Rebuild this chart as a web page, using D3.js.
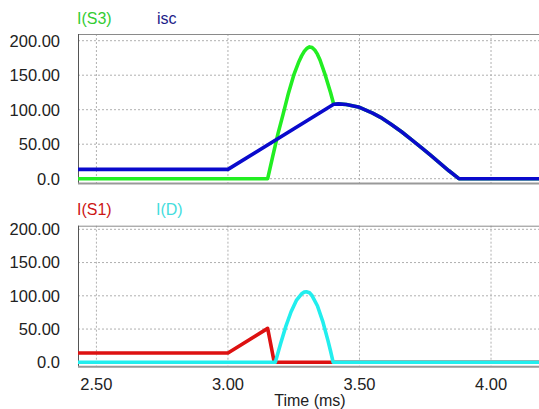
<!DOCTYPE html>
<html>
<head>
<meta charset="utf-8">
<script src="https://cdn.jsdelivr.net/npm/d3@7"></script>
<style>
  body { margin: 0; background: #fff; }
  svg text { font-family: "Liberation Sans", Arial, sans-serif; }
</style>
</head>
<body>
<div id="chart"></div>
<script>
// size of the page
let width = 539
let height = 409

// tick labels
let xTicks = [2.5, 3.0, 3.5, 4.0]
let xTickLabels = ["2.50", "3.00", "3.50", "4.00"]
let yTicks = [0, 50, 100, 150, 200]
let yTickLabels = ["0.0", "50.00", "100.00", "150.00", "200.00"]

// top panel: I(S3) and isc  (time in ms, current)
let s3Time = [2.43, 3.151, 3.17, 3.19, 3.21, 3.23, 3.25, 3.27, 3.28, 3.29, 3.30, 3.31, 3.32, 3.33, 3.34, 3.35, 3.37, 3.39, 3.402,
  3.42, 3.45, 3.50, 3.55, 3.58, 3.62, 3.66, 3.70, 3.74, 3.77, 3.80, 3.84, 3.878, 4.19]
let s3Value = [0, 0, 32, 65, 94, 124, 150, 170, 178, 184.5, 189, 191, 190, 186.5, 180.5, 172, 150, 125, 108,
  108.5, 107.5, 103.5, 95, 89, 79, 68, 56, 43.5, 34, 24.5, 11.5, 0, 0]

let iscTime = [2.43, 3.00, 3.402, 3.42, 3.45, 3.50, 3.55, 3.58, 3.62, 3.66, 3.70, 3.74, 3.77, 3.80, 3.84, 3.878, 4.19]
let iscValue = [13.5, 13.5, 108, 108.5, 107.5, 103.5, 95, 89, 79, 68, 56, 43.5, 34, 24.5, 11.5, 0, 0]

// bottom panel: I(S1) and I(D)
let s1Time = [2.43, 3.00, 3.151, 3.176, 4.19]
let s1Value = [14, 14, 51, 0, 0]

let dTime = [2.43, 3.18, 3.20, 3.22, 3.24, 3.26, 3.28, 3.29, 3.298, 3.31, 3.32, 3.34, 3.36, 3.38, 3.39, 3.40, 4.19]
let dValue = [0, 0, 28, 54, 76, 93, 103, 105.5, 106, 104.5, 100, 85, 62, 33, 17, 0, 0]

const zip = (t, v) => t.map((d, i) => ({ t: d, v: v[i] }))

let panels = [
  { top: 34, bottom: 183.5, y0: 178.7, y200: 40.7, legendY: 24,
    series: [
      { name: "I(S3)", data: zip(s3Time, s3Value), color: "#22ee22", legend: "#33cc33", lx: 77 },
      { name: "isc", data: zip(iscTime, iscValue), color: "#0a0acc", legend: "#1c1c88", lx: 157 }
    ] },
  { top: 225.7, bottom: 366.7, y0: 362.3, y200: 229.3, legendY: 214.5,
    series: [
      { name: "I(S1)", data: zip(s1Time, s1Value), color: "#dd1111", legend: "#cc1515", lx: 77 },
      { name: "I(D)", data: zip(dTime, dValue), color: "#22eeee", legend: "#44dddd", lx: 156 }
    ] }
]

let left = 78
let right = 541

let x = d3.scaleLinear()
  .domain([2.43, 4.19])
  .range([left, right])

let svg = d3.select("#chart")
  .append("svg")
  .attr("width", width)
  .attr("height", height)

panels.forEach((p, pi) => {
  let y = d3.scaleLinear().domain([0, 200]).range([p.y0, p.y200])
  let g = svg.append("g")

  // clip to the frame
  let clipId = "clip" + pi
  g.append("clipPath").attr("id", clipId)
    .append("rect")
    .attr("x", left).attr("y", p.top)
    .attr("width", right - left).attr("height", p.bottom - p.top)

  // dotted grid
  g.selectAll(".hgrid")
    .data(yTicks)
    .enter()
    .append("line")
    .attr("x1", left).attr("x2", right)
    .attr("y1", d => y(d)).attr("y2", d => y(d))
    .attr("stroke", "#b0b0b0")
    .attr("stroke-width", 1)
    .attr("stroke-dasharray", "2,2")

  g.selectAll(".vgrid")
    .data(xTicks)
    .enter()
    .append("line")
    .attr("x1", d => x(d)).attr("x2", d => x(d))
    .attr("y1", p.top).attr("y2", p.bottom)
    .attr("stroke", "#b0b0b0")
    .attr("stroke-width", 1)
    .attr("stroke-dasharray", "2,2")

  // frame
  g.append("line")
    .attr("x1", left).attr("x2", right).attr("y1", p.top + 0.5).attr("y2", p.top + 0.5)
    .attr("stroke", "#8a8a8a")
  g.append("line")
    .attr("x1", left + 0.5).attr("x2", left + 0.5).attr("y1", p.top).attr("y2", p.bottom)
    .attr("stroke", "#555")
  g.append("line")
    .attr("x1", left).attr("x2", right).attr("y1", p.bottom).attr("y2", p.bottom)
    .attr("stroke", "#999")
    .attr("stroke-width", 2)

  // y tick labels
  g.selectAll(".ylab")
    .data(yTicks)
    .enter()
    .append("text")
    .attr("x", 60)
    .attr("y", d => y(d))
    .attr("dy", "0.36em")
    .attr("text-anchor", "end")
    .attr("font-size", 16.5)
    .attr("fill", "#222")
    .text((d, i) => yTickLabels[i])

  // curves
  let line = d3.line()
    .x(d => x(d.t))
    .y(d => y(d.v))

  p.series.forEach(s => {
    g.append("path")
      .attr("clip-path", "url(#" + clipId + ")")
      .attr("d", line(s.data))
      .attr("fill", "none")
      .attr("stroke", s.color)
      .attr("stroke-width", 3.6)
      .attr("stroke-linejoin", "round")

    g.append("text")
      .attr("x", s.lx)
      .attr("y", p.legendY)
      .attr("font-size", 16)
      .attr("fill", s.legend)
      .text(s.name)
  })
})

// x tick labels under the bottom panel
svg.selectAll(".xlab")
  .data(xTicks)
  .enter()
  .append("text")
  .attr("x", d => x(d))
  .attr("y", 389.5)
  .attr("text-anchor", "middle")
  .attr("font-size", 16.5)
  .attr("fill", "#222")
  .text((d, i) => xTickLabels[i])

svg.append("text")
  .attr("x", 310)
  .attr("y", 406)
  .attr("text-anchor", "middle")
  .attr("font-size", 16)
  .attr("fill", "#222")
  .text("Time (ms)")
</script>
</body>
</html>
